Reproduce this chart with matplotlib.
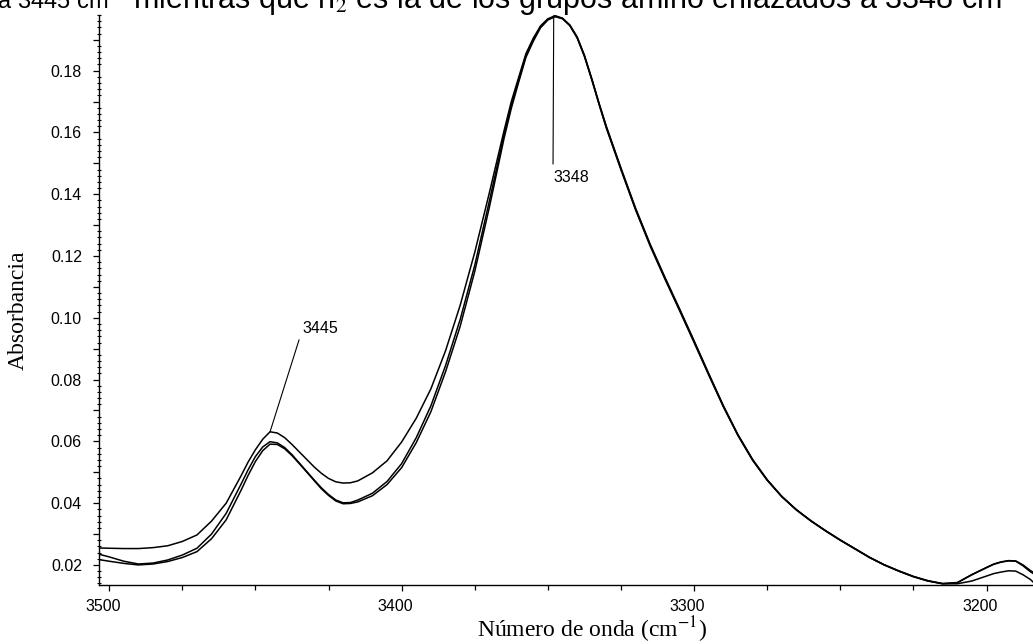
import numpy as np
import matplotlib
matplotlib.use("Agg")
from matplotlib import pyplot as plt
from matplotlib.ticker import MultipleLocator, FuncFormatter
from matplotlib.transforms import ScaledTranslation

# wavenumbers (cm-1) and absorbance of the three spectra
wavenumber = [3504, 3500, 3495, 3490, 3485, 3480, 3475, 3470, 3465, 3460,
              3455, 3452.5, 3450, 3447.5, 3445, 3442.5, 3440, 3437.5, 3435, 3432.5,
              3430, 3427.5, 3425, 3422.5, 3420, 3417.5, 3415, 3410, 3405, 3400,
              3395, 3390, 3385, 3380, 3375, 3370, 3365, 3362.5, 3360, 3357.5,
              3355, 3352.5, 3350, 3347.5, 3345, 3342.5, 3340, 3337.5, 3335, 3332.5,
              3330, 3325, 3320, 3315, 3310, 3305, 3300, 3295, 3290, 3285,
              3280, 3275, 3270, 3265, 3260, 3255, 3250, 3245, 3240, 3235,
              3230, 3225, 3220, 3215, 3210, 3205, 3200, 3197.5, 3195, 3192.5,
              3190, 3187.5, 3185, 3184]

spec_a = [0.0255, 0.0254, 0.0253, 0.0253, 0.0256, 0.0262, 0.0276, 0.0297, 0.0342, 0.0400,
          0.0487, 0.0533, 0.0573, 0.0607, 0.0631, 0.0627, 0.0612, 0.0590, 0.0566, 0.0542,
          0.0518, 0.0497, 0.0480, 0.0469, 0.0465, 0.0466, 0.0472, 0.0498, 0.0537, 0.0598,
          0.0675, 0.0770, 0.0893, 0.1040, 0.1212, 0.1405, 0.1605, 0.1700, 0.1778, 0.1855,
          0.1905, 0.1945, 0.1968, 0.1978, 0.1970, 0.1948, 0.1910, 0.1850, 0.1775, 0.1695,
          0.1620, 0.1485, 0.1355, 0.1238, 0.1132, 0.1030, 0.0926, 0.0820, 0.0716, 0.0622,
          0.0542, 0.0476, 0.0422, 0.0379, 0.0343, 0.0311, 0.0281, 0.0253, 0.0225, 0.0201,
          0.0181, 0.0163, 0.0149, 0.0140, 0.0143, 0.0169, 0.0192, 0.0203, 0.0210, 0.0214,
          0.0213, 0.0200, 0.0182, 0.0176]

spec_b = [0.0236, 0.0226, 0.0212, 0.0203, 0.0206, 0.0216, 0.0232, 0.0254, 0.0300, 0.0367,
          0.0460, 0.0508, 0.0551, 0.0582, 0.0599, 0.0595, 0.0580, 0.0557, 0.0530, 0.0503,
          0.0476, 0.0450, 0.0428, 0.0410, 0.0401, 0.0402, 0.0410, 0.0432, 0.0470, 0.0528,
          0.0612, 0.0715, 0.0845, 0.0994, 0.1170, 0.1378, 0.1592, 0.1688, 0.1770, 0.1849,
          0.1900, 0.1942, 0.1966, 0.1976, 0.1969, 0.1947, 0.1908, 0.1848, 0.1773, 0.1693,
          0.1617, 0.1482, 0.1352, 0.1235, 0.1129, 0.1027, 0.0923, 0.0817, 0.0714, 0.0620,
          0.0540, 0.0475, 0.0421, 0.0378, 0.0342, 0.0310, 0.0280, 0.0252, 0.0224, 0.0200,
          0.0180, 0.0162, 0.0148, 0.0139, 0.0142, 0.0168, 0.0191, 0.0202, 0.0209, 0.0213,
          0.0212, 0.0197, 0.0178, 0.0172]

spec_c = [0.0218, 0.0212, 0.0205, 0.0200, 0.0203, 0.0211, 0.0224, 0.0243, 0.0285, 0.0346,
          0.0440, 0.0490, 0.0535, 0.0570, 0.0591, 0.0590, 0.0576, 0.0554, 0.0528, 0.0501,
          0.0474, 0.0447, 0.0425, 0.0407, 0.0398, 0.0399, 0.0404, 0.0424, 0.0460, 0.0515,
          0.0596, 0.0696, 0.0825, 0.0972, 0.1150, 0.1358, 0.1580, 0.1678, 0.1762, 0.1843,
          0.1895, 0.1939, 0.1964, 0.1975, 0.1968, 0.1946, 0.1906, 0.1846, 0.1771, 0.1691,
          0.1614, 0.1479, 0.1349, 0.1232, 0.1126, 0.1024, 0.0920, 0.0815, 0.0712, 0.0619,
          0.0539, 0.0474, 0.0421, 0.0378, 0.0342, 0.0310, 0.0280, 0.0252, 0.0224, 0.0200,
          0.0180, 0.0162, 0.0148, 0.0139, 0.0139, 0.0148, 0.0164, 0.0172, 0.0177, 0.0181,
          0.0180, 0.0168, 0.0153, 0.0144]

peak_labels = [3445, 3348]

plt.rcParams['font.family'] = ['Liberation Sans', 'DejaVu Sans']
plt.rcParams['mathtext.fontset'] = 'stix'

fig = plt.figure(figsize=(10.33, 6.44), dpi=100)
ax = fig.add_axes([0.0961, 0.0916, 0.9039, 0.885])

for spec in (spec_a, spec_b, spec_c):
    ax.plot(wavenumber, spec, color='black', lw=1.1, solid_joinstyle='round')

ax.set_xlim(3503.4, 3184.1)
ax.set_ylim(0.0135, 0.198)

ax.spines['top'].set_visible(False)
ax.spines['right'].set_visible(False)
ax.spines['left'].set_linewidth(1.0)
ax.spines['bottom'].set_linewidth(1.0)

ax.xaxis.set_major_locator(MultipleLocator(100))
ax.xaxis.set_minor_locator(MultipleLocator(25))
ax.yaxis.set_major_locator(MultipleLocator(0.01))
ax.yaxis.set_minor_locator(MultipleLocator(0.002))
ax.yaxis.set_major_formatter(FuncFormatter(
    lambda v, p: '%.2f' % v if round(v * 100) % 2 == 0 else ''))
ax.xaxis.set_major_formatter(FuncFormatter(lambda v, p: '%d' % v))

ax.tick_params(axis='x', which='major', direction='out', length=4, width=0.9,
               labelsize=11.5, pad=6)
ax.tick_params(axis='x', which='minor', direction='out', length=3.5, width=0.9)
ax.tick_params(axis='y', which='major', direction='out', length=4.5, width=0.9,
               labelsize=11.5, pad=8)
ax.tick_params(axis='y', which='minor', direction='inout', length=3.5, width=0.8)

# tick labels in the original sit a little left of their ticks
shift = ScaledTranslation(-6.5 / 100, 0, fig.dpi_scale_trans)
for lab in ax.get_xticklabels():
    lab.set_transform(lab.get_transform() + shift)

# peak annotations
ya = spec_a[wavenumber.index(peak_labels[0])]
ax.annotate(str(peak_labels[0]), xy=(peak_labels[0], ya), xytext=(23.5, 74.5),
            textcoords='offset points', ha='left', va='center', fontsize=11.5,
            arrowprops=dict(arrowstyle='-', lw=0.8, color='black',
                            shrinkA=2, shrinkB=0, relpos=(0, 0.5)))
yp = max(spec_a)
ax.annotate(str(peak_labels[1]), xy=(peak_labels[1], yp), xytext=(-0.5, -110.8),
            textcoords='offset points', ha='left', va='top', fontsize=11.5,
            arrowprops=dict(arrowstyle='-', lw=0.8, color='black',
                            shrinkA=2, shrinkB=0, relpos=(0, 1)))

fig.text(592 / 1033, 1 - 637 / 644, 'Número de onda (cm$^{-1}$)', ha='center',
         va='baseline', fontsize=17, family=['Liberation Serif', 'DejaVu Serif'])
fig.text(18 / 1033, 1 - 310 / 644, 'Absorbancia', ha='center', va='center',
         rotation=90, fontsize=17, family=['Liberation Serif', 'DejaVu Serif'])

# sentence from the page above the figure, mostly cut off
fig.text(128 / 1033, 1 - 9 / 644, 's a 3445 cm$^{-1}$', ha='right', va='baseline',
         fontsize=17)
fig.text(133 / 1033, 1 - 9 / 644,
         'mientras que n$_2$ es la de los grupos amino enlazados a 3348 cm$^{-1}$',
         ha='left', va='baseline', fontsize=22)

fig.savefig('out.png', dpi=100)
